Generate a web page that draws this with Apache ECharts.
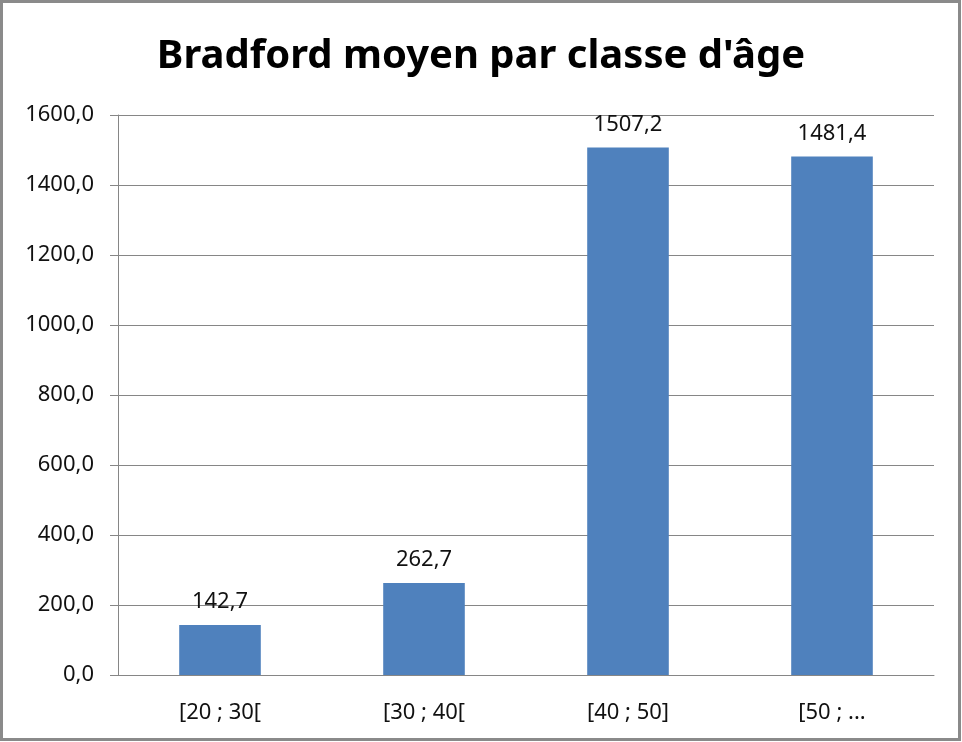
<!DOCTYPE html>
<html>
<head>
<meta charset="utf-8">
<script src="https://cdn.jsdelivr.net/npm/echarts@6/dist/echarts.min.js"></script>
<style>
  html, body { margin: 0; padding: 0; background: #fff; }
  #main { width: 962px; height: 742px; }
</style>
</head>
<body>
<div id="main"></div>
<script>
// categories and values
const categories = ['[20 ; 30[', '[30 ; 40[', '[40 ; 50]', '[50 ; ...'];
const bradford = [142.7, 262.7, 1507.2, 1481.4];

const fmt = v => v.toFixed(1).replace('.', ',');
const font = '"Noto Sans", "Liberation Sans", sans-serif';

const chart = echarts.init(document.getElementById('main'));
chart.setOption({
    animation: false,
    title: {
        text: "Bradford moyen par classe d'âge",
        left: 'center',
        top: 32,
        textStyle: { fontFamily: font, fontSize: 40, fontWeight: 'bold', color: '#000' }
    },
    // chart area border
    graphic: [{
        type: 'rect',
        shape: { x: 1.5, y: 1.5, width: 958, height: 738 },
        style: { fill: 'none', stroke: '#8a8a8a', lineWidth: 3 }
    }],
    grid: { left: 118, right: 28, top: 115, bottom: 67 },
    xAxis: {
        type: 'category',
        data: categories,
        axisLine: { lineStyle: { color: '#868686' } },
        axisTick: { length: 6, lineStyle: { color: '#868686' } },
        axisLabel: { margin: 27, fontFamily: font, fontSize: 22, color: '#111' }
    },
    yAxis: {
        type: 'value',
        min: 0,
        max: 1600,
        interval: 200,
        axisLine: { show: true, lineStyle: { color: '#868686' } },
        axisTick: { show: true, length: 8, lineStyle: { color: '#868686' } },
        splitLine: { lineStyle: { color: '#868686' } },
        axisLabel: { margin: 24, fontFamily: font, fontSize: 22, color: '#111', formatter: fmt }
    },
    series: [{
        type: 'bar',
        data: bradford,
        barWidth: '40%',
        itemStyle: { color: '#4F81BD' },
        label: {
            show: true,
            position: 'top',
            distance: 12,
            fontFamily: font,
            fontSize: 22,
            color: '#111',
            formatter: p => fmt(p.value)
        }
    }]
});
</script>
</body>
</html>
